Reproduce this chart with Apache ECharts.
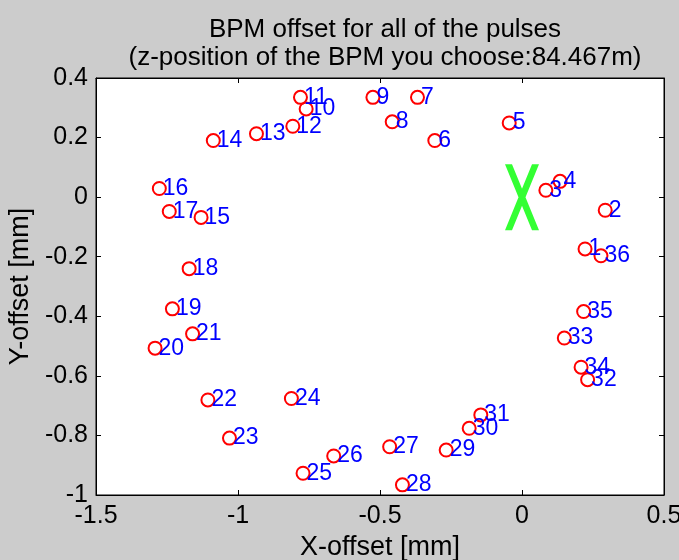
<!DOCTYPE html>
<html>
<head>
    <meta charset="utf-8"/>
    <title>BPM offset</title>
    <script type="text/javascript" src="https://cdn.jsdelivr.net/npm/echarts@6/dist/echarts.min.js"></script>
    <style>
        html, body { margin: 0; padding: 0; background: #cccccc; }
        #main { width: 679px; height: 560px; }
    </style>
</head>
<body>
<div id="main"></div>
<script type="text/javascript">
    // pulse number and its BPM offset (mm)
    var pulseIds = [1, 2, 3, 4, 5, 6, 7, 8, 9, 10, 11, 12, 13, 14, 15, 16, 17, 18,
        19, 20, 21, 22, 23, 24, 25, 26, 27, 28, 29, 30, 31, 32, 33, 34, 35, 36];
    var xOffset = [0.222, 0.293, 0.084, 0.134, -0.045, -0.307, -0.368, -0.457, -0.525, -0.760,
        -0.780, -0.807, -0.935, -1.087, -1.130, -1.277, -1.242, -1.172, -1.231, -1.292,
        -1.160, -1.106, -1.030, -0.812, -0.771, -0.663, -0.466, -0.421, -0.267, -0.186,
        -0.145, 0.231, 0.149, 0.208, 0.217, 0.278];
    var yOffset = [-0.174, -0.044, 0.023, 0.053, 0.249, 0.190, 0.335, 0.253, 0.335, 0.296,
        0.335, 0.238, 0.213, 0.190, -0.068, 0.029, -0.048, -0.240, -0.375, -0.507,
        -0.459, -0.681, -0.809, -0.676, -0.927, -0.869, -0.838, -0.966, -0.849, -0.776,
        -0.731, -0.613, -0.473, -0.571, -0.384, -0.197];
    // reference point (big green X)
    var centerMark = [0, 0];

    var pts = [];
    for (var i = 0; i < pulseIds.length; i++) {
        pts.push([xOffset[i], yOffset[i], pulseIds[i]]);
    }

    var font = 'Liberation Sans, Arial, Helvetica, sans-serif';
    // X glyph made of two bars
    var xPath = 'path://M0,0L7,0L34,66L27,66ZM27,0L34,0L7,66L0,66Z';

    var myChart = echarts.init(document.getElementById('main'));
    var option = {
        backgroundColor: '#cccccc',
        animation: false,
        title: {
            text: 'BPM offset for all of the pulses\n(z-position of the BPM you choose:84.467m)',
            left: 380,
            top: 11,
            textAlign: 'center',
            textStyle: {
                color: '#000',
                fontFamily: font,
                fontWeight: 'normal',
                fontSize: 26,
                lineHeight: 28
            }
        },
        grid: {
            left: 96, right: 15, top: 78, bottom: 65,
            outerBoundsMode: 'none',
            containLabel: false,
            show: true,
            backgroundColor: '#ffffff',
            borderColor: '#000',
            borderWidth: 1
        },
        xAxis: [
            {
                type: 'value', min: -1.5, max: 0.5, interval: 0.5,
                name: 'X-offset [mm]', nameLocation: 'middle', nameGap: 32,
                nameTextStyle: { color: '#000', fontFamily: font, fontSize: 27 },
                axisLine: { show: true, onZero: false, lineStyle: { color: '#000' } },
                axisTick: { show: true, inside: true, length: 5, lineStyle: { color: '#000' } },
                axisLabel: {
                    color: '#000', fontFamily: font, fontSize: 25, margin: 9,
                    formatter: function (v) { return String(v); }
                },
                splitLine: { show: false }
            },
            {
                type: 'value', position: 'top', min: -1.5, max: 0.5, interval: 0.5,
                axisLine: { show: true, onZero: false, lineStyle: { color: '#000' } },
                axisTick: { show: true, inside: true, length: 5, lineStyle: { color: '#000' } },
                axisLabel: { show: false },
                splitLine: { show: false }
            }
        ],
        yAxis: [
            {
                type: 'value', min: -1, max: 0.4, interval: 0.2,
                name: 'Y-offset [mm]', nameLocation: 'middle', nameGap: 58, nameRotate: 90,
                nameTextStyle: { color: '#000', fontFamily: font, fontSize: 27 },
                axisLine: { show: true, onZero: false, lineStyle: { color: '#000' } },
                axisTick: { show: true, inside: true, length: 5, lineStyle: { color: '#000' } },
                axisLabel: {
                    color: '#000', fontFamily: font, fontSize: 25, margin: 8,
                    formatter: function (v) { return String(Math.round(v * 10) / 10); }
                },
                splitLine: { show: false }
            },
            {
                type: 'value', position: 'right', min: -1, max: 0.4, interval: 0.2,
                axisLine: { show: true, onZero: false, lineStyle: { color: '#000' } },
                axisTick: { show: true, inside: true, length: 5, lineStyle: { color: '#000' } },
                axisLabel: { show: false },
                splitLine: { show: false }
            }
        ],
        series: [
            {
                type: 'scatter',
                data: pts,
                symbol: 'circle',
                symbolSize: 13,
                itemStyle: {
                    color: 'rgba(0,0,0,0)',
                    borderColor: '#ff0000',
                    borderWidth: 2,
                    opacity: 1
                },
                label: {
                    show: true,
                    position: 'right',
                    distance: -4,
                    color: '#0000ff',
                    fontFamily: font,
                    fontSize: 23,
                    formatter: function (p) { return String(p.value[2]); }
                },
                z: 3
            },
            {
                type: 'scatter',
                data: [centerMark],
                symbol: xPath,
                symbolSize: [34, 66],
                itemStyle: { color: '#00ff00' },
                z: 2
            }
        ]
    };
    myChart.setOption(option);
</script>
</body>
</html>
